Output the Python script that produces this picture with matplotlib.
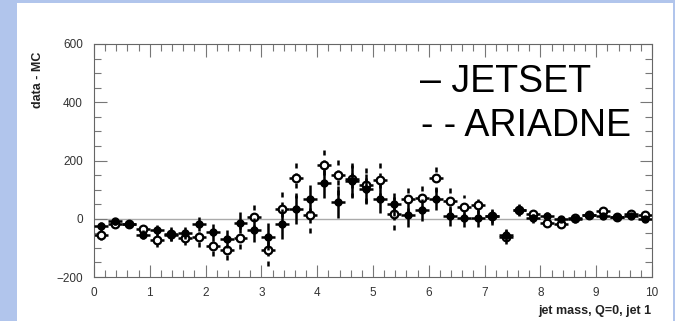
import numpy as np
import matplotlib.pyplot as plt
from matplotlib.patches import Rectangle
from matplotlib.ticker import MultipleLocator

plt.rcParams['font.family'] = ['Liberation Sans', 'DejaVu Sans']

# jet mass bins (width 0.25) and data - MC for the two generators
mass = np.arange(0.125, 10, 0.25)
jetset = [-26, -9, -19, -55, -38, -55, -49, -18, -47, -69,
          -13, -39, -61, -18, 32, 67, 122, 58, 130, 102,
          69, 50, 14, 29, 67, 10, 1, 1, 10, -56,
          30, 2, 10, 0, 0, 14, 10, 6, 11, 0]
jetset_err = [15, 12, 12, 15, 18, 20, 22, 25, 28, 31,
              37, 40, 46, 50, 50, 48, 52, 55, 55, 52,
              50, 40, 42, 38, 38, 35, 30, 28, 25, 22,
              18, 15, 12, 10, 10, 10, 10, 8, 8, 8]
ariadne = [-55, -17, -19, -35, -74, -52, -65, -62, -93, -106,
           -65, 7, -109, 35, 141, 13, 185, 150, 138, 117,
           134, 18, 69, 71, 139, 62, 42, 47, 8, -63,
           29, 16, -15, -18, 2, 13, 25, 6, 17, 14]
ariadne_err = [18, 14, 14, 18, 22, 24, 26, 34, 36, 37,
               40, 46, 54, 63, 69, 62, 69, 70, 68, 63,
               63, 58, 50, 45, 48, 42, 38, 32, 28, 25,
               20, 17, 14, 12, 12, 12, 12, 10, 10, 10]
half_bin = 0.125

fig = plt.figure(figsize=(6.75, 3.21), dpi=100)
fig.patch.set_facecolor('#b1c5ec')
fig.patches.append(Rectangle((17 / 675, 0), 656 / 675, 318 / 321,
                             transform=fig.transFigure, facecolor='white',
                             edgecolor='none', zorder=-5))

ax = fig.add_axes([94 / 675, 1 - 277 / 321, 558 / 675, 233 / 321])
ax.set_facecolor('white')

ax.axhline(0, color='#aaaaaa', lw=1, zorder=1)

eb = ax.errorbar(mass, ariadne, yerr=ariadne_err, xerr=half_bin, fmt='o',
                 ms=5.5, mfc='white', mec='black', mew=1.6, ecolor='black',
                 elinewidth=1.8, capsize=0, zorder=2)
eb[2][1].set_linestyle((0, (2, 2)))
ax.errorbar(mass, jetset, yerr=jetset_err, xerr=half_bin, fmt='o',
            ms=5, mfc='black', mec='black', ecolor='black',
            elinewidth=1.8, capsize=0, zorder=3)

ax.set_xlim(0, 10)
ax.set_ylim(-200, 600)
ax.xaxis.set_major_locator(MultipleLocator(1))
ax.xaxis.set_minor_locator(MultipleLocator(0.2))
ax.yaxis.set_major_locator(MultipleLocator(200))
ax.yaxis.set_minor_locator(MultipleLocator(50))
ax.tick_params(which='both', direction='in', top=True, right=True,
               color='#777777', labelsize=8.5, labelcolor='#333333')
ax.tick_params(which='major', length=9, width=0.8)
ax.tick_params(which='minor', length=5, width=0.8)
ax.tick_params(axis='x', pad=7)
ax.tick_params(axis='y', pad=8)
for s in ax.spines.values():
    s.set_color('#666666')
    s.set_linewidth(0.8)

fig.text(38 / 675, 1 - 80 / 321, 'data - MC', rotation=90, ha='center',
         va='center', fontsize=9, fontweight='bold', color='#222222')
fig.text(651 / 675, 1 - 311 / 321, 'jet mass, Q=0, jet 1', ha='right',
         va='center', fontsize=9, fontweight='bold', color='#222222')

fig.text(420 / 675, 1 - 92 / 321, '\u2013 JETSET', ha='left',
         va='baseline', fontsize=27, color='black')
fig.text(421 / 675, 1 - 136 / 321, '- - ARIADNE', ha='left',
         va='baseline', fontsize=27, color='black')

fig.savefig('out.png', dpi=100, facecolor=fig.get_facecolor())
